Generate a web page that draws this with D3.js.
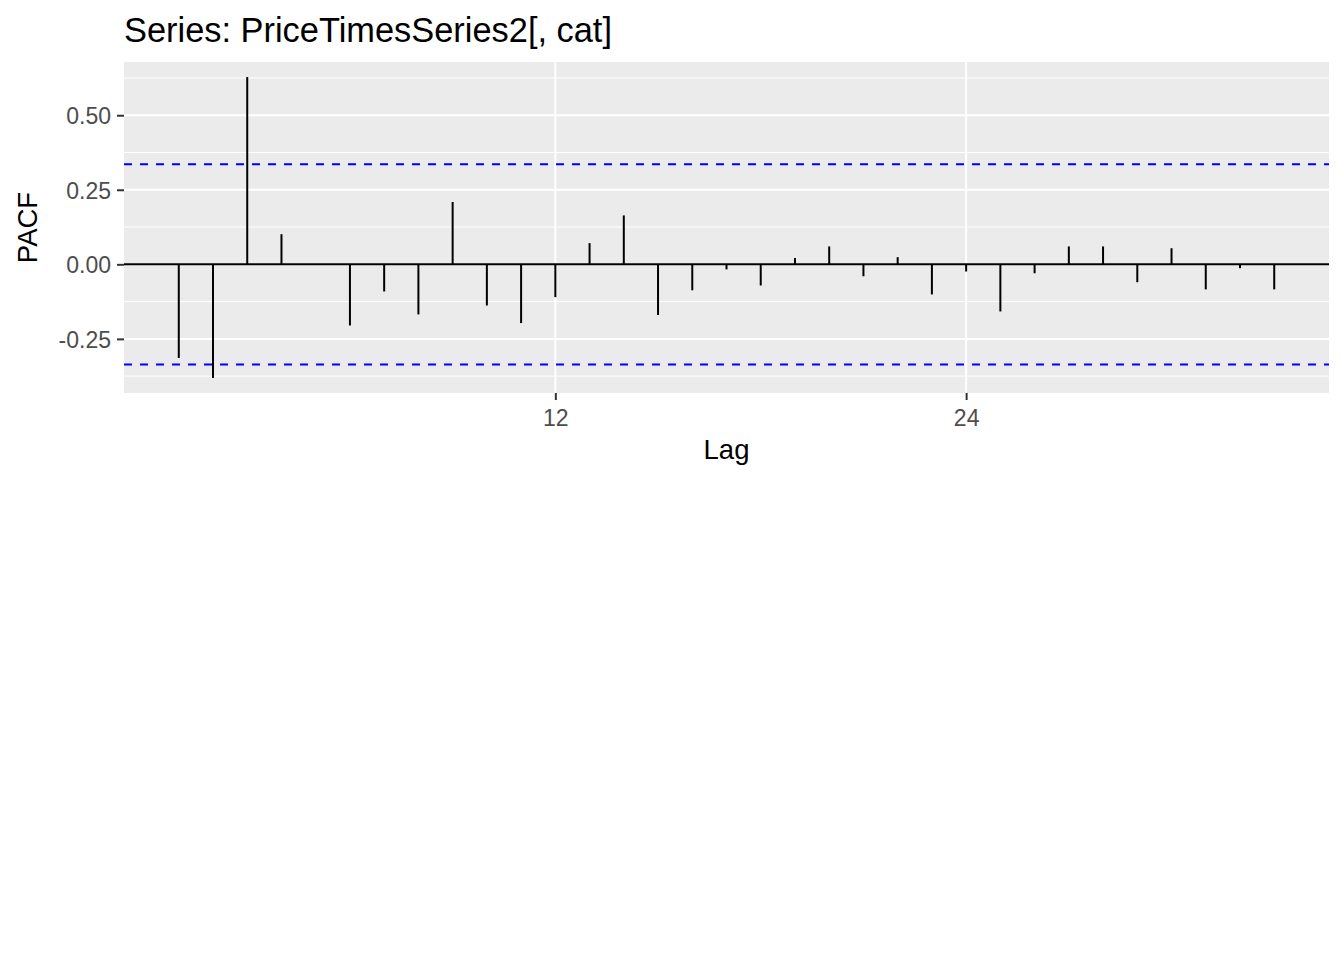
<!DOCTYPE html>
<html>
<head>
<meta charset="utf-8">
<script src="https://cdn.jsdelivr.net/npm/d3@7"></script>
<style>
  html, body { margin: 0; padding: 0; background: #fff; }
  svg { display: block; font-family: "Liberation Sans", Arial, sans-serif; }
</style>
</head>
<body>
<svg id="chart" width="1344" height="960"></svg>
<script>
// ---- data ----
const lags = d3.range(1, 34);
const pacf = [
  -0.314, -0.381, 0.628, 0.101, 0.000, -0.205, -0.091, -0.168, 0.209, -0.138,
  -0.197, -0.110, 0.071, 0.164, -0.170, -0.087, -0.017, -0.071, 0.021, 0.060,
  -0.040, 0.024, -0.101, -0.024, -0.158, -0.030, 0.060, 0.060, -0.060, 0.054,
  -0.084, -0.013, -0.084
];
const ciLimit = 0.336;
const xTickValues = [12, 24];
const yTickValues = [-0.25, 0, 0.25, 0.5];
const yMinorValues = [-0.375, -0.125, 0.125, 0.375, 0.625];
const titleText = "Series: PriceTimesSeries2[, cat]";
const xLabel = "Lag";
const yLabel = "PACF";

// ---- layout ----
const panel = { left: 124, right: 1329, top: 62, bottom: 393 };
const svg = d3.select("#chart");
const locale = d3.formatLocale({ decimal: ".", thousands: ",", grouping: [3], currency: ["", ""], minus: "-" });

function expand(lo, hi) { const r = hi - lo; return [lo - 0.05 * r, hi + 0.05 * r]; }
const xDom = expand(d3.min(lags), d3.max(lags));
const yDom = expand(d3.min(pacf), d3.max(pacf));

const x = d3.scaleLinear().domain(xDom).range([panel.left, panel.right]);
const y = d3.scaleLinear().domain(yDom).range([panel.bottom, panel.top]);

// panel background
svg.append("rect")
  .attr("x", panel.left).attr("y", panel.top)
  .attr("width", panel.right - panel.left).attr("height", panel.bottom - panel.top)
  .attr("fill", "#EBEBEB");

// grid minor
svg.append("g").selectAll("line").data(yMinorValues).join("line")
  .attr("x1", panel.left).attr("x2", panel.right)
  .attr("y1", d => y(d)).attr("y2", d => y(d))
  .attr("stroke", "#fff").attr("stroke-width", 1);
// grid major
svg.append("g").selectAll("line").data(yTickValues).join("line")
  .attr("x1", panel.left).attr("x2", panel.right)
  .attr("y1", d => y(d)).attr("y2", d => y(d))
  .attr("stroke", "#fff").attr("stroke-width", 2);
svg.append("g").selectAll("line").data(xTickValues).join("line")
  .attr("y1", panel.top).attr("y2", panel.bottom)
  .attr("x1", d => x(d)).attr("x2", d => x(d))
  .attr("stroke", "#fff").attr("stroke-width", 2);

// zero line
svg.append("line")
  .attr("x1", panel.left).attr("x2", panel.right)
  .attr("y1", y(0)).attr("y2", y(0))
  .attr("stroke", "#000").attr("stroke-width", 2);

// segments
svg.append("g").selectAll("line").data(lags).join("line")
  .attr("x1", d => x(d)).attr("x2", d => x(d))
  .attr("y1", y(0)).attr("y2", (d, i) => y(pacf[i]))
  .attr("stroke", "#000").attr("stroke-width", 2);

// confidence lines
svg.append("g").selectAll("line").data([ciLimit, -ciLimit]).join("line")
  .attr("x1", panel.left).attr("x2", panel.right)
  .attr("y1", d => y(d)).attr("y2", d => y(d))
  .attr("stroke", "#0000FF").attr("stroke-width", 2)
  .attr("stroke-dasharray", "8,8");

// axes
const yAxis = d3.axisLeft(y).tickValues(yTickValues).tickSize(7).tickPadding(6)
  .tickFormat(locale.format(".2f"));
const gy = svg.append("g").attr("transform", `translate(${panel.left},0)`).call(yAxis);
gy.select(".domain").remove();
gy.selectAll(".tick line").attr("stroke", "#333333").attr("stroke-width", 2);
gy.selectAll(".tick text").attr("fill", "#4D4D4D").attr("font-size", 23)
  .attr("font-family", '"Liberation Sans", Arial, sans-serif').attr("dy", "0.36em");

const xAxis = d3.axisBottom(x).tickValues(xTickValues).tickSize(7).tickPadding(4)
  .tickFormat(d3.format("d"));
const gx = svg.append("g").attr("transform", `translate(0,${panel.bottom})`).call(xAxis);
gx.select(".domain").remove();
gx.selectAll(".tick line").attr("stroke", "#333333").attr("stroke-width", 2);
gx.selectAll(".tick text").attr("fill", "#4D4D4D").attr("font-size", 23)
  .attr("font-family", '"Liberation Sans", Arial, sans-serif').attr("dy", null).attr("y", 32.8);

// titles
svg.append("text").attr("x", panel.left).attr("y", 41.7)
  .attr("font-size", 34.4).attr("fill", "#000").text(titleText);
svg.append("text").attr("x", (panel.left + panel.right) / 2).attr("y", 459)
  .attr("text-anchor", "middle").attr("font-size", 27.5).attr("fill", "#000").text(xLabel);
svg.append("text")
  .attr("transform", `translate(37,${(panel.top + panel.bottom) / 2}) rotate(-90)`)
  .attr("text-anchor", "middle").attr("font-size", 27.5).attr("fill", "#000").text(yLabel);
</script>
</body>
</html>
